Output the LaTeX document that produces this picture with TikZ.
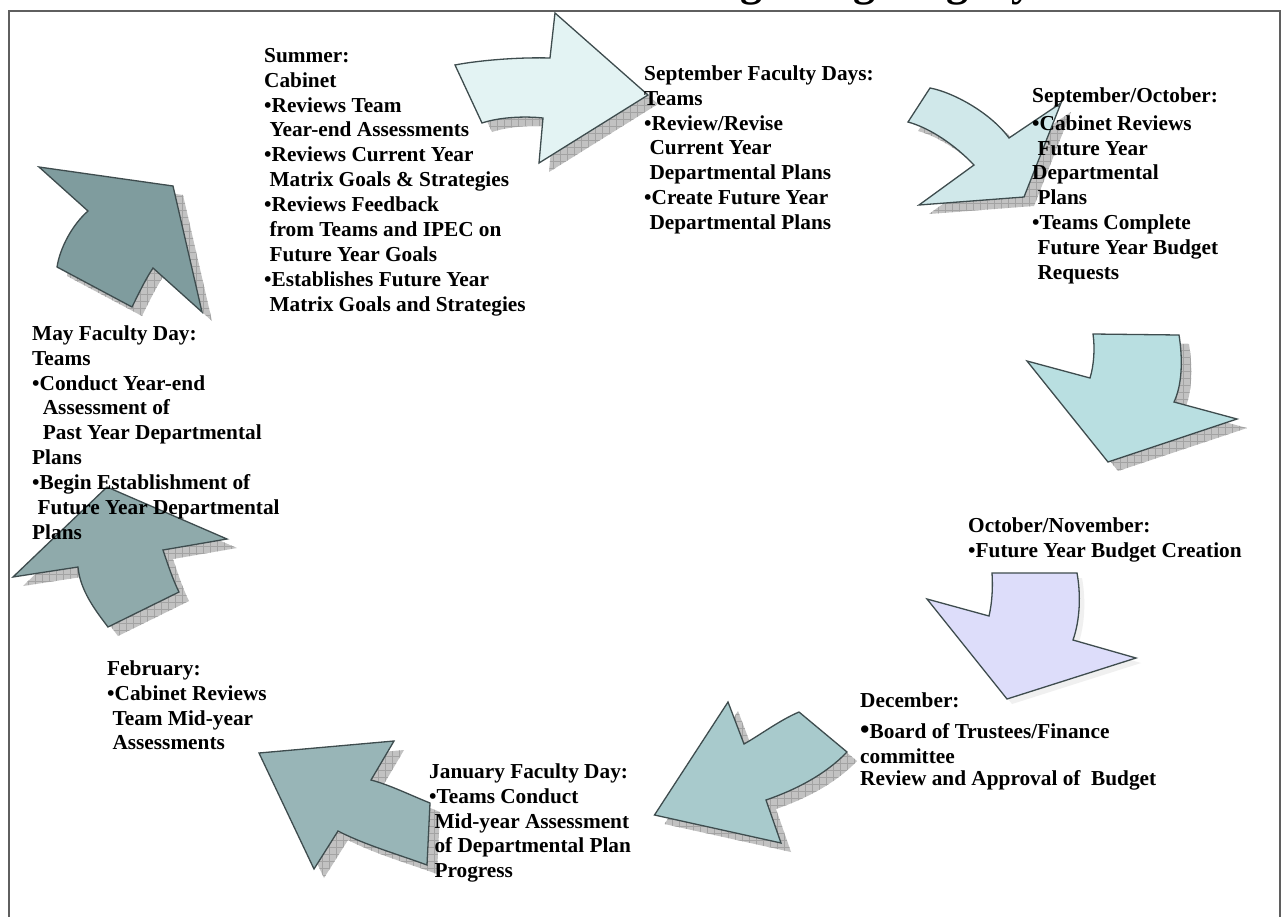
\documentclass[tikz,border=0pt]{standalone}
\usepackage{fontspec}
\setmainfont{Liberation Serif}
\definecolor{edgecol}{RGB}{62,76,78}
\definecolor{framecol}{RGB}{95,95,95}
\definecolor{cA}{RGB}{227,243,243}
\definecolor{cB}{RGB}{208,232,234}
\definecolor{cC}{RGB}{185,223,225}
\definecolor{cD}{RGB}{221,221,250}
\definecolor{cE}{RGB}{168,202,204}
\definecolor{cF}{RGB}{152,181,183}
\definecolor{cG}{RGB}{143,170,171}
\definecolor{cH}{RGB}{127,156,158}
\newcommand\ind{\hspace*{0.25em}}
\newcommand\fst{\rule{0pt}{16pt}}
% arrow outlines (pixel coordinates)
\newcommand\shpA[1]{\path[#1] (455,65) .. controls (475,61) and (515,57) .. (550,58) -- (555,13) -- (648,95) -- (539,163) -- (543,118) .. controls (525,116) and (500,117) .. (482,123) -- cycle;}
\newcommand\shpB[1]{\path[#1] (930,88) .. controls (952,92) and (990,112) .. (1009,138) -- (1061,103) -- (1024,197) -- (919,205) -- (974,165) .. controls (955,145) and (930,128) .. (908,122) -- cycle;}
\newcommand\shpC[1]{\path[#1] (1093,334) -- (1179,335) .. controls (1183,360) and (1182,385) .. (1174,402) -- (1237,419) -- (1108,462) -- (1027,361) -- (1090,378) .. controls (1094,365) and (1095,348) .. (1093,334) -- cycle;}
\newcommand\shpD[1]{\path[#1] (992,573) -- (1077,573) .. controls (1081,595) and (1080,620) .. (1073,640) -- (1136,658) -- (1007,699) -- (927,599) -- (989,616) .. controls (992,603) and (993,588) .. (992,573) -- cycle;}
\newcommand\shpE[1]{\path[#1] (728,702) -- (744,744) .. controls (760,735) and (780,720) .. (799,712) -- (847,752) .. controls (825,775) and (795,790) .. (766,800) -- (781,843) -- (654.5,815) -- cycle;}
\newcommand\shpF[1]{\path[#1] (259,753) -- (394,741) -- (371,780) .. controls (390,785) and (410,795) .. (430,803) -- (427,865) .. controls (400,855) and (365,845) .. (338,831) -- (314,869) -- cycle;}
\newcommand\shpG[1]{\path[#1] (13,577) -- (107,487) -- (227,539) -- (163,550) .. controls (168,565) and (173,580) .. (179,592) -- (108,627) .. controls (95,610) and (80,590) .. (78,567) -- cycle;}
\newcommand\shpH[1]{\path[#1] (39,167) -- (173,186) -- (202,312) -- (153,268) .. controls (145,280) and (138,295) .. (132,307) -- (57,267) .. controls (60,248) and (72,225) .. (88,211) -- cycle;}
\newcommand\hatchshadow[1]{\begin{scope}#1{clip, shift={(10,9)}}\fill[gray!48] (-20pt,20pt) rectangle (1300pt,-930pt);\draw[gray!72, line width=0.5pt, step=7pt] (0pt,0pt) grid (1290pt,-920pt);\end{scope}}
\begin{document}
\begin{tikzpicture}[x=1pt,y=-1pt,
  blockarrow/.style={draw=edgecol, line width=1.3pt, line join=miter},
  txt/.style={anchor=north west, inner sep=0pt, align=left, font=\bfseries\fontsize{21.3}{24.9}\selectfont}]
\useasboundingbox (0,0) rectangle (1287,916);
\clip (0,0) rectangle (1287,916);
\fill[white] (0,0) rectangle (1287,916);
% title (mostly outside the page) and frame
\node[anchor=base west, inner sep=0pt, font=\bfseries\fontsize{44}{50}\selectfont] (title) at (594,-4.5) {Planning/Budgeting Cycle};
\draw[framecol, line width=1.5pt] (9,1000) -- (9,11) -- (1280,11) -- (1280,1000);
% shadows
\hatchshadow{\shpA}
\hatchshadow{\shpB}
\hatchshadow{\shpC}
\hatchshadow{\shpE}
\hatchshadow{\shpF}
\hatchshadow{\shpG}
\hatchshadow{\shpH}
\shpD{fill=gray!12, shift={(5,5)}}
% arrows
\shpA{blockarrow, fill=cA}
\shpB{blockarrow, fill=cB}
\shpC{blockarrow, fill=cC}
\shpD{blockarrow, fill=cD}
\shpE{blockarrow, fill=cE}
\shpF{blockarrow, fill=cF}
\shpG{blockarrow, fill=cG}
\shpH{blockarrow, fill=cH}
% texts
\node[txt] (summer) at (264,46) {\fst Summer:\\ Cabinet\\ •Reviews Team\\ \ind Year-end Assessments\\ •Reviews Current Year\\ \ind Matrix Goals \& Strategies\\ •Reviews Feedback\\ \ind from Teams and IPEC on\\ \ind Future Year Goals\\ •Establishes Future Year\\ \ind Matrix Goals and Strategies};
\node[txt] (sepfac) at (644,64) {\fst September Faculty Days:\\ Teams\\ •Review/Revise\\ \ind Current Year\\ \ind Departmental Plans\\ •Create Future Year\\ \ind Departmental Plans};
\node[txt] (sepoct) at (1032,86) {\fst September/October:\\[3pt] •Cabinet Reviews\\ \ind Future Year\\ Departmental\\ \ind Plans\\ •Teams Complete\\ \ind Future Year Budget\\ \ind Requests};
\node[txt] (octnov) at (968,516) {\fst October/November:\\ •Future Year Budget Creation};
\node[txt] (december) at (860,691) {\fst December:\\[6pt] {\fontsize{27}{24.9}\selectfont •}Board of Trustees/Finance\\ committee\\[-2pt] Review and Approval of\ \ Budget};
\node[txt] (january) at (429,762) {\fst January Faculty Day:\\ •Teams Conduct\\ \ind Mid-year Assessment\\ \ind of Departmental Plan\\ \ind Progress};
\node[txt] (february) at (107,659) {\fst February:\\ •Cabinet Reviews\\ \ind Team Mid-year\\ \ind Assessments};
\node[txt] (may) at (32,324) {\fst May Faculty Day:\\ Teams\\ •Conduct Year-end\\ \ind\ind Assessment of\\ \ind\ind Past Year Departmental\\ Plans\\ •Begin Establishment of\\ \ind Future Year Departmental\\ Plans};
\end{tikzpicture}
\end{document}
